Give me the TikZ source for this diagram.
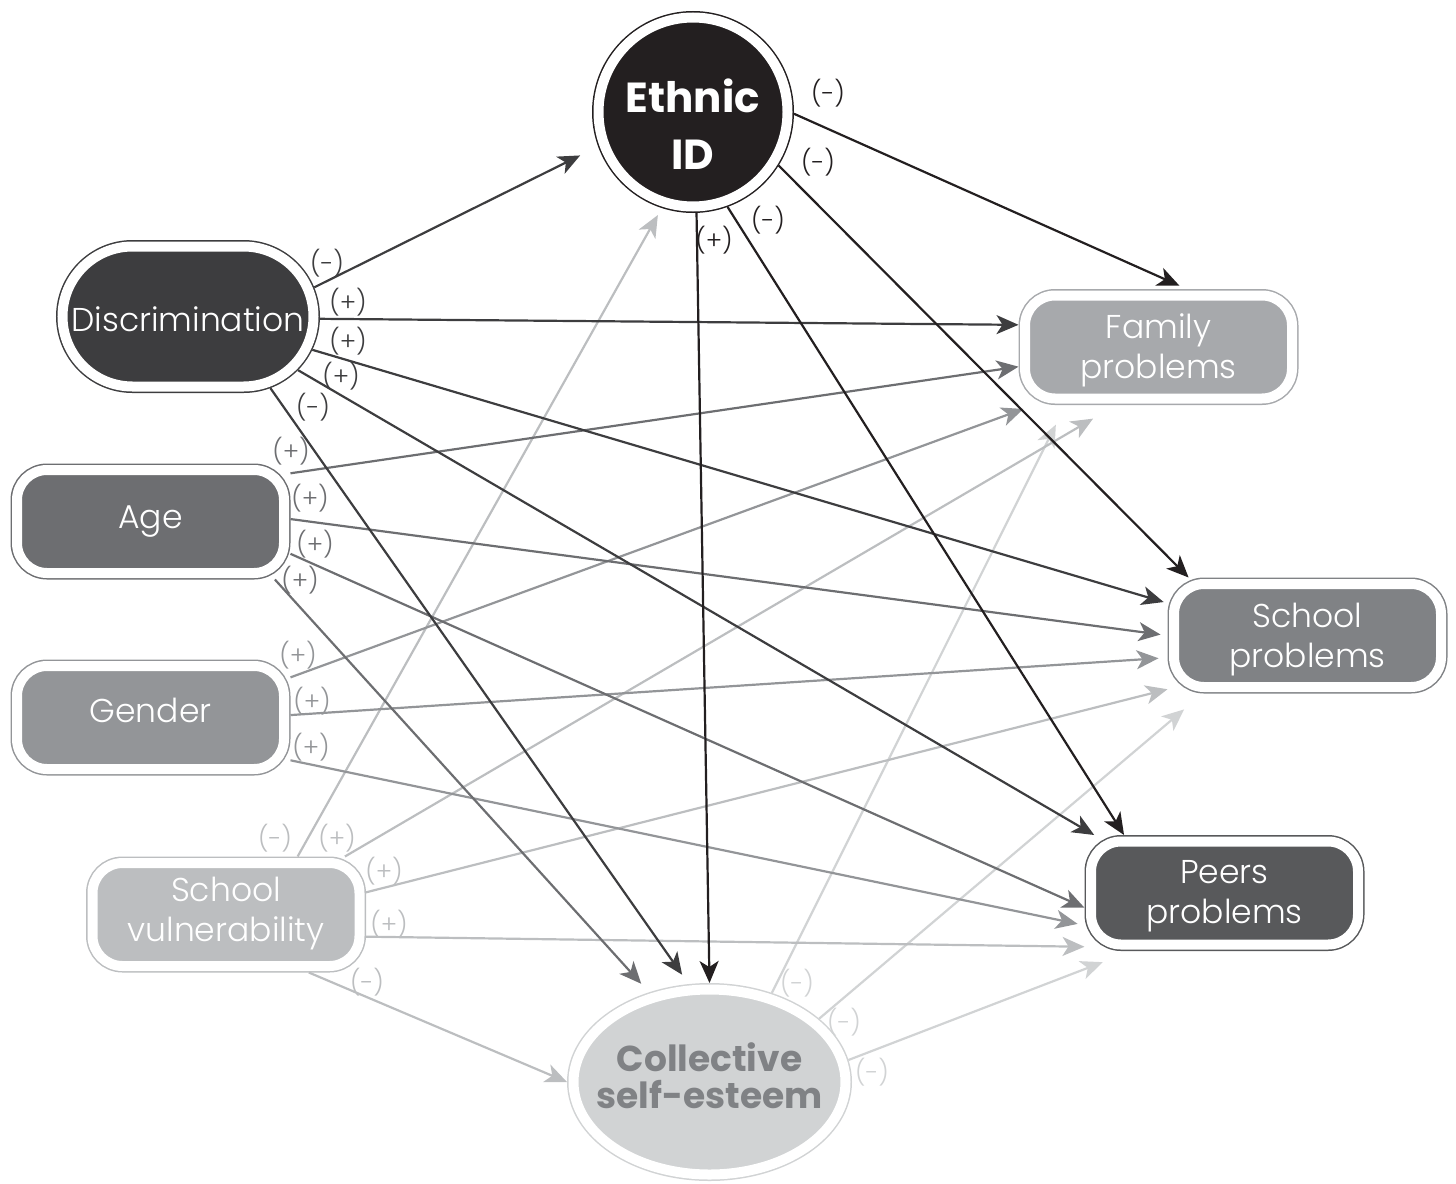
\documentclass[tikz,border=0pt]{standalone}
\usepackage{fontspec}
\setmainfont{Poppins}[UprightFont={* Light}, BoldFont={* Bold}]
\usetikzlibrary{arrows.meta,shapes.misc,shapes.geometric}
\definecolor{cEth}{HTML}{231F20}
\definecolor{cDis}{HTML}{3D3D3F}
\definecolor{cAge}{HTML}{6D6E71}
\definecolor{cGen}{HTML}{939598}
\definecolor{cSv}{HTML}{BCBEC0}
\definecolor{cColl}{HTML}{D1D3D4}
\definecolor{cCollTxt}{HTML}{808285}
\definecolor{cFam}{HTML}{A7A9AC}
\definecolor{cSch}{HTML}{808285}
\definecolor{cPeer}{HTML}{58595B}
\begin{document}
\begin{tikzpicture}[x=0.5pt,y=-0.5pt,
  ring/.style={draw=#1, fill=#1, double=white, double distance=5pt, line width=0.75pt, outer sep=3.25pt, inner sep=0pt},
  box/.style={ring=#1, rectangle, rounded corners=15pt, minimum width=133.5pt, minimum height=51.5pt},
  txt/.style={text=white, align=center, inner sep=0pt, font=\fontsize{16.5}{20}\selectfont},
  arr/.style={draw=#1, line width=1.1pt, -{Stealth[length=11pt,width=9.5pt,inset=3pt]}},
  lab/.style={text=#1, inner sep=0pt, font=\fontsize{12.5}{12.5}\selectfont}]
\useasboundingbox (0,0) rectangle (1456,1183);

% nodes
\node[ring=cEth, circle, minimum size=94.5pt] (eth) at (693,112) {};
\node[ring=cDis, rounded rectangle, minimum width=125.5pt, minimum height=70pt] (disc) at (188,316.5) {};
\node[box=cAge] (age) at (150.5,521.5) {};
\node[box=cGen] (gen) at (150.5,717.5) {};
\node[box=cSv] (svul) at (226,914.5) {};
\node[ring=cColl, ellipse, minimum width=136pt, minimum height=92.5pt] (coll) at (709.5,1082) {};
\node[box=cFam] (fam) at (1158.5,347) {};
\node[box=cSch] (sch) at (1307.5,635.5) {};
\node[box=cPeer] (peer) at (1224.5,893) {};

% texts
\node[txt, font=\bfseries\fontsize{21}{28.5}\selectfont] (ethT) at (693,124) {Ethnic\\ID};
\node[txt] (discT) at (188,319) {Discrimination};
\node[txt] (ageT) at (150.5,521.5) {Age};
\node[txt] (genT) at (150.5,710.5) {Gender};
\node[txt] (svulT) at (226,914) {School\\vulnerability};
\node[txt, text=cCollTxt, font=\bfseries\fontsize{18}{18.5}\selectfont] (collT) at (709.5,1076) {Collective\\self-esteem};
\node[txt] (famT) at (1158.5,350) {Family\\problems};
\node[txt] (schT) at (1307.5,640) {School\\problems};
\node[txt] (peerT) at (1224.5,896.5) {Peers\\problems};

% connectors: collective self-esteem
\draw[arr=cColl, shorten >=11pt] (coll.55.2) -- (fam.212.8);
\draw[arr=cColl, shorten >=12.3pt] (coll.30.9) -- (sch.209.2);
\draw[arr=cColl, shorten >=15.5pt] (coll.9.8) -- (peer.212.9);
% school vulnerability
\draw[arr=cSv, shorten >=4pt] (svul.39.6) -- (eth.252.4);
\draw[arr=cSv, shorten >=13.5pt] (svul.26.8) -- (fam.234.8);
\draw[arr=cSv] (svul.9.1) -- (sch.201.6);
\draw[arr=cSv] (svul.-9.9) -- (peer.201.5);
\draw[arr=cSv] (svul.-35.8) -- (coll.180);
% gender
\draw[arr=cGen, shorten >=5.7pt] (gen.16) -- (fam.205.6);
\draw[arr=cGen, shorten >=4.5pt] (gen.1.8) -- (sch.189);
\draw[arr=cGen, shorten >=3.5pt] (gen.-17.5) -- (peer.193.4);
% age
\draw[arr=cAge] (age.19.3) -- (fam.188.5);
\draw[arr=cAge, shorten >=3.5pt] (age.1.4) -- (sch.180);
\draw[arr=cAge] (age.-13.9) -- (peer.186.9);
\draw[arr=cAge, shorten >=5.8pt] (age.-25.9) -- (coll.124.3);
% discrimination
\draw[arr=cDis, shorten >=10pt] (disc.13.6) -- (eth.200.4);
\draw[arr=cDis] (disc.-1.5) -- (fam.171.5);
\draw[arr=cDis, shorten >=2pt] (disc.-15.9) -- (sch.167.3);
\draw[arr=cDis] (disc.-26.4) -- (peer.156.7);
\draw[arr=cDis, shorten >=5.7pt] (disc.-41.1) -- (coll.102.7);
% ethnic ID
\draw[arr=cEth, shorten >=4pt] (eth.-1) -- (fam.64.5);
\draw[arr=cEth] (eth.-32.3) -- (sch.154.6);
\draw[arr=cEth] (eth.-70) -- (peer.150.1);
\draw[arr=cEth] (eth.-88.9) -- (coll.90);

% labels
\node[lab=cEth] (l1) at (828,93) {(-)};
\node[lab=cEth] (l2) at (818,162) {(-)};
\node[lab=cEth] (l3) at (768,220) {(-)};
\node[lab=cEth] (l4) at (714,240) {(+)};
\node[lab=cDis] (l5) at (327,263) {(-)};
\node[lab=cDis] (l6) at (348,302) {(+)};
\node[lab=cDis] (l7) at (348,341) {(+)};
\node[lab=cDis] (l8) at (341,376) {(+)};
\node[lab=cDis] (l9) at (313,407) {(-)};
\node[lab=cAge] (l10) at (291,451) {(+)};
\node[lab=cAge] (l11) at (310,498) {(+)};
\node[lab=cAge] (l12) at (315,544) {(+)};
\node[lab=cAge] (l13) at (300,580) {(+)};
\node[lab=cGen] (l14) at (298,655) {(+)};
\node[lab=cGen] (l15) at (312,701) {(+)};
\node[lab=cGen] (l16) at (311,747) {(+)};
\node[lab=cSv] (l17) at (275,838) {(-)};
\node[lab=cSv] (l18) at (337,838) {(+)};
\node[lab=cSv] (l19) at (384,871) {(+)};
\node[lab=cSv] (l20) at (389,924) {(+)};
\node[lab=cSv] (l21) at (367,982) {(-)};
\node[lab=cColl] (l22) at (797,983) {(-)};
\node[lab=cColl] (l23) at (844,1022) {(-)};
\node[lab=cColl] (l24) at (872,1072) {(-)};
\end{tikzpicture}
\end{document}
